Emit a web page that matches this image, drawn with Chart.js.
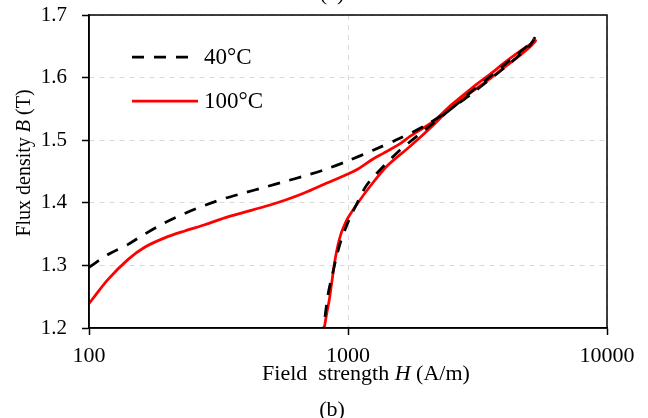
<!DOCTYPE html>
<html>
<head>
<meta charset="utf-8">
<script src="https://cdn.jsdelivr.net/npm/chart.js@4/dist/chart.umd.min.js"></script>
<style>
  html, body { margin: 0; padding: 0; background: #fff; }
  #wrap { width: 648px; height: 418px; }
</style>
</head>
<body>
<div id="wrap"><canvas id="chart" width="648" height="418"></canvas></div>
<script>
/* B-H curves, log field strength axis */

const FONT = "'Liberation Serif', 'Times New Roman', serif";

const xTicks = [100, 1000, 10000];
const yTicks = [1.2, 1.3, 1.4, 1.5, 1.6, 1.7];

// 40°C : upper branch out to the tip, then back down the lower branch
const h40 = [100, 118, 142, 164, 196, 234, 280, 334, 399, 477, 570, 681, 813, 1000, 1250, 1585, 2000, 2500, 3000, 3500, 4000, 4500, 5000, 5250,
             5000, 4500, 4000, 3500, 3000, 2500, 2133, 1841, 1585, 1368, 1180, 1080, 1030, 985, 940, 902, 870, 837, 805];
const b40 = [1.297, 1.317, 1.334, 1.350, 1.368, 1.383, 1.396, 1.407, 1.416, 1.425, 1.434, 1.443, 1.453, 1.467, 1.484, 1.503, 1.524, 1.550, 1.578, 1.600, 1.620, 1.637, 1.653, 1.663,
             1.650, 1.633, 1.615, 1.596, 1.574, 1.550, 1.527, 1.506, 1.484, 1.458, 1.428, 1.398, 1.381, 1.362, 1.340, 1.313, 1.285, 1.253, 1.200];

// 100°C
const h100 = [100, 104, 118, 142, 164, 196, 234, 280, 334, 399, 477, 570, 681, 813, 1000, 1093, 1250, 1368, 1585, 1734, 2133, 2500, 3000, 3500, 4000, 4500, 5000, 5300,
              5100, 4500, 4000, 3500, 3000, 2500, 2133, 1734, 1409, 1216, 1093, 1000, 970, 942, 915, 888, 849, 825, 810];
const b100 = [1.239, 1.248, 1.277, 1.310, 1.329, 1.344, 1.355, 1.365, 1.376, 1.385, 1.394, 1.404, 1.416, 1.430, 1.446, 1.454, 1.470, 1.479, 1.494, 1.506, 1.530, 1.556, 1.583, 1.604, 1.623, 1.639, 1.652, 1.659,
              1.651, 1.632, 1.616, 1.597, 1.577, 1.552, 1.524, 1.490, 1.458, 1.426, 1.400, 1.376, 1.365, 1.352, 1.333, 1.305, 1.248, 1.220, 1.200];

const seriesLabels = ["40°C", "100°C"];

const toPts = (xs, ys) => xs.map((x, i) => ({ x, y: ys[i] }));

/* ── Legend inside plot area ─────────────────────────── */
const innerLegend = {
  id: "innerLegend",
  afterDraw(chart) {
    const ctx = chart.ctx;
    const rows = [57, 101];
    chart.data.datasets.forEach((ds, i) => {
      const y = rows[i];
      ctx.save();
      ctx.strokeStyle = ds.borderColor;
      ctx.lineWidth = ds.borderWidth;
      ctx.setLineDash(ds.borderDash || []);
      ctx.beginPath();
      ctx.moveTo(132, y);
      ctx.lineTo(198, y);
      ctx.stroke();
      ctx.setLineDash([]);
      ctx.fillStyle = "#000";
      ctx.font = `23px ${FONT}`;
      ctx.textBaseline = "middle";
      ctx.fillText(ds.label, 204, y + 1);
      ctx.restore();
    });
  },
};

/* ── Frame, axis titles, caption ─────────────────────── */
function mixedText(ctx, parts, cx, cy, size) {
  const widths = parts.map(([t, it]) => {
    ctx.font = `${it ? "italic " : ""}${size}px ${FONT}`;
    return ctx.measureText(t).width;
  });
  let x = cx - widths.reduce((a, b) => a + b, 0) / 2;
  parts.forEach(([t, it], i) => {
    ctx.font = `${it ? "italic " : ""}${size}px ${FONT}`;
    ctx.fillText(t, x, cy);
    x += widths[i];
  });
}

const decorations = {
  id: "decorations",
  afterDraw(chart) {
    const { ctx, chartArea: a } = chart;
    ctx.save();
    ctx.strokeStyle = "#000";
    ctx.lineWidth = 1.5;
    ctx.strokeRect(a.left, a.top, a.right - a.left, a.bottom - a.top);

    ctx.fillStyle = "#000";
    ctx.textBaseline = "middle";
    mixedText(ctx, [["Field  strength ", false], ["H", true], [" (A/m)", false]], 366, 374, 22);
    mixedText(ctx, [["(b)", false]], 332, 410, 22);
    ctx.textBaseline = "alphabetic";
    mixedText(ctx, [["(a)", false]], 332, 0, 22);

    ctx.translate(25, 163);
    ctx.rotate(-Math.PI / 2);
    ctx.textBaseline = "middle";
    mixedText(ctx, [["Flux density ", false], ["B", true], [" (T)", false]], 0, 0, 20);
    ctx.restore();
  },
};

/* ── Chart ───────────────────────────────────────────── */
new Chart(document.getElementById("chart"), {
  type: "scatter",
  data: {
    datasets: [
      {
        label: seriesLabels[0],
        data: toPts(h40, b40),
        showLine: true,
        borderColor: "#000000",
        borderWidth: 2.75,
        borderDash: [12, 10],
        pointRadius: 0,
        tension: 0.3,
      },
      {
        label: seriesLabels[1],
        data: toPts(h100, b100),
        showLine: true,
        borderColor: "#ff0000",
        borderWidth: 2.75,
        pointRadius: 0,
        tension: 0.3,
      },
    ],
  },
  options: {
    responsive: false,
    animation: false,
    layout: { padding: { left: 0, top: 15, right: 41, bottom: 0 } },
    plugins: { legend: { display: false }, tooltip: { enabled: false } },
    scales: {
      x: {
        type: "logarithmic",
        min: 100,
        max: 10000,
        afterBuildTicks: (s) => { s.ticks = xTicks.map((v) => ({ value: v })); },
        afterFit: (s) => { s.height = 90; },
        ticks: {
          color: "#000",
          font: { family: FONT, size: 22 },
          padding: 8,
          maxRotation: 0,
          autoSkip: false,
          callback: (v) => String(v),
        },
        grid: {
          color: "#d9d9d9",
          lineWidth: 1,
          tickLength: 7,
          tickColor: "#000",
          tickBorderDash: [],
          tickWidth: 1.5,
        },
        border: { display: true, color: "#000", width: 1.5, dash: [5, 5] },
      },
      y: {
        min: 1.2,
        max: 1.7,
        afterBuildTicks: (s) => { s.ticks = yTicks.map((v) => ({ value: v })); },
        afterFit: (s) => { s.width = 89; s.paddingTop = 0; s.paddingBottom = 0; },
        ticks: {
          color: "#000",
          font: { family: FONT, size: 21 },
          padding: 15,
          callback: (v) => Number(v).toFixed(1),
        },
        grid: {
          color: "#d9d9d9",
          lineWidth: 1,
          tickLength: 7,
          tickColor: "#000",
          tickBorderDash: [],
          tickWidth: 1.5,
        },
        border: { display: true, color: "#000", width: 1.5, dash: [5, 5] },
      },
    },
  },
  plugins: [innerLegend, decorations],
});
</script>
</body>
</html>
